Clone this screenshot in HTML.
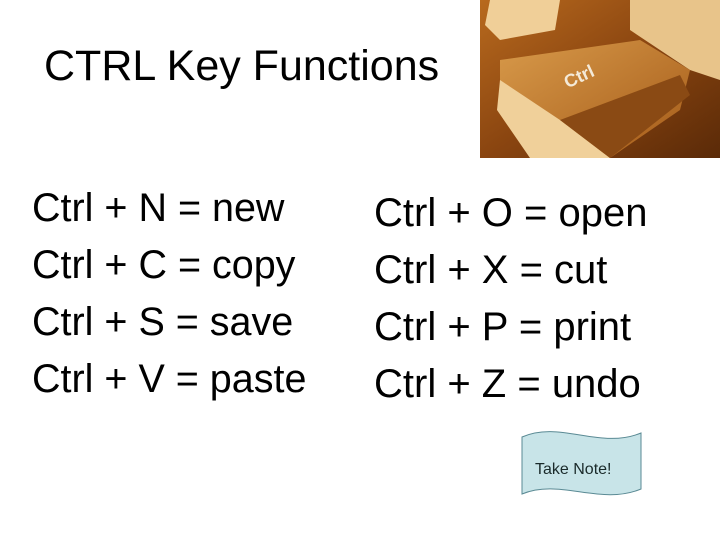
<!DOCTYPE html>
<html><head><style>
body{margin:0;width:720px;height:539px;background:#fff;overflow:hidden;position:relative;font-family:"Liberation Sans",sans-serif;}
.t{position:absolute;white-space:nowrap;color:#000;}
</style></head><body>
<svg style="position:absolute;left:0;top:0" width="720" height="539">
<defs>
<linearGradient id="bg" x1="0" y1="0" x2="1" y2="1">
<stop offset="0" stop-color="#b86a1e"/><stop offset="0.5" stop-color="#8a4510"/><stop offset="1" stop-color="#5a2a08"/></linearGradient>
<linearGradient id="key" x1="0" y1="0" x2="1" y2="1">
<stop offset="0" stop-color="#d89a4a"/><stop offset="1" stop-color="#a45a18"/></linearGradient>
</defs>
<rect x="480" y="0" width="240" height="158" fill="url(#bg)"/>
<polygon points="490,0 560,0 555,30 500,40 485,25" fill="#f0cf98"/>
<polygon points="630,0 720,0 720,80 690,70 630,30" fill="#e8c48a"/>
<polygon points="500,60 640,40 690,70 680,110 610,158 530,158 500,110" fill="url(#key)"/>
<polygon points="500,80 560,120 610,158 530,158 497,110" fill="#f0d09a"/>
<polygon points="560,120 680,75 690,95 610,158" fill="#8a4a14"/>
<text x="563" y="82" fill="#f4ead8" font-size="18" font-weight="bold" transform="rotate(-25 580 75)">Ctrl</text>
<path d="M522,437 C560,420 600,450 641,433 L641,489 C600,506 560,478 522,494 Z" fill="#c8e4e8" stroke="#5a8a94" stroke-width="1"/>
<text x="535" y="474" font-size="16" fill="#1a2a2a" font-family="Liberation Sans">Take Note!</text>
</svg>
<div class="t" style="left:44px;top:42px;font-size:43px">CTRL Key Functions</div>
<div class="t" style="left:32px;top:180px;font-size:39.5px;line-height:57px">Ctrl + N = new<br>Ctrl + C = copy<br>Ctrl + S = save<br>Ctrl + V = paste</div>
<div class="t" style="left:374px;top:185px;font-size:40px;line-height:57px">Ctrl + O = open<br>Ctrl + X = cut<br>Ctrl + P = print<br>Ctrl + Z = undo</div>
</body></html>
